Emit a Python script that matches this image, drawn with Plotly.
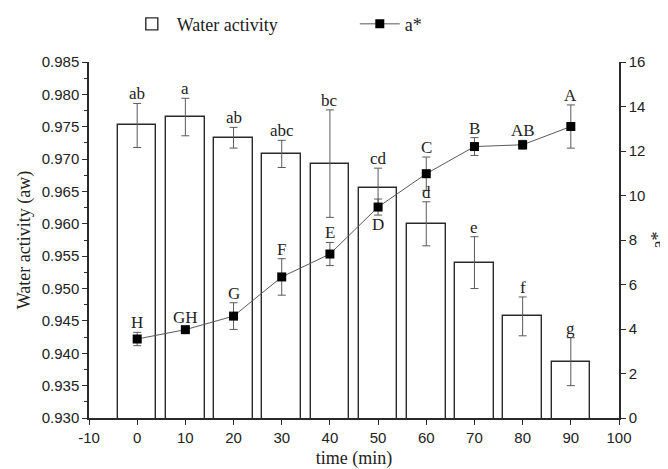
import plotly.graph_objects as go

time_min = [0, 10, 20, 30, 40, 50, 60, 70, 80, 90]
aw = [0.9752, 0.9765, 0.9733, 0.9708, 0.9693, 0.9656, 0.9600, 0.9540, 0.9457, 0.9387]
aw_err = [0.0034, 0.0029, 0.0016, 0.0021, 0.0083, 0.0030, 0.0034, 0.0040, 0.0030, 0.0037]
aw_letters = ["ab", "a", "ab", "abc", "bc", "cd", "d", "e", "f", "g"]
a_star = [3.55, 3.97, 4.58, 6.34, 7.37, 9.48, 10.98, 12.2, 12.28, 13.1]
a_star_err = [0.30, 0.10, 0.60, 0.82, 0.52, 0.36, 0.75, 0.40, 0.20, 0.97]
a_star_letters = ["H", "GH", "G", "F", "E", "D", "C", "B", "AB", "A"]
x_ticks = [-10, 0, 10, 20, 30, 40, 50, 60, 70, 80, 90, 100]
x_tick_labels = ["-10", "0", "10", "20", "30", "40", "50", "60", "70", "80", "90", "100"]

serif = "Liberation Serif, Times New Roman, serif"
sans = "Liberation Sans, Arial, sans-serif"
ink = "#2a2a2a"
grey = "#5a5a5a"
txt = "#222222"

fig = go.Figure()
fig.add_trace(go.Bar(
    x=time_min, y=aw, width=8, name="Water activity",
    marker=dict(color="white", line=dict(color=ink, width=1.4)),
    error_y=dict(type="data", array=aw_err, color=grey, thickness=1, width=4),
    yaxis="y",
))
fig.add_trace(go.Scatter(
    x=time_min, y=a_star, name="a*", mode="lines+markers",
    line=dict(color=grey, width=1),
    marker=dict(symbol="square", size=9, color="black"),
    error_y=dict(type="data", array=a_star_err, color=grey, thickness=1, width=4),
    yaxis="y2",
))

lab_font = dict(family=serif, size=17, color=txt)
annotations = []
for x, v, e, t in zip(time_min, aw, aw_err, aw_letters):
    annotations.append(dict(x=x, y=v + e, xref="x", yref="y", text=t, showarrow=False,
                            yanchor="bottom", yshift=-2, font=lab_font))
for x, v, e, t in zip(time_min, a_star, a_star_err, a_star_letters):
    if t == "D":
        annotations.append(dict(x=x, y=v - e, xref="x", yref="y2", text=t, showarrow=False,
                                yanchor="top", yshift=2, font=lab_font))
    else:
        annotations.append(dict(x=x, y=v + e, xref="x", yref="y2", text=t, showarrow=False,
                                yanchor="bottom", yshift=-2, font=lab_font))

title_font = dict(family=serif, size=18, color=txt)

fig.update_layout(
    width=660, height=461,
    margin=dict(l=81, r=49, t=54, b=51, autoexpand=False),
    paper_bgcolor="white", plot_bgcolor="white",
    showlegend=True,
    legend=dict(orientation="h", xref="container", yref="container",
                x=0.18, y=0.965, xanchor="left", yanchor="middle",
                font=dict(family=serif, size=18, color=txt),
                entrywidth=173, entrywidthmode="pixels", itemwidth=40,
                bgcolor="rgba(0,0,0,0)"),
    bargap=0,
    xaxis=dict(range=[-10, 100], tickvals=x_ticks, ticktext=x_tick_labels,
               ticks="outside", ticklen=5, automargin=False,
               showline=True, linecolor=ink, linewidth=1.5, tickcolor=ink, showgrid=False,
               zeroline=False, tickfont=dict(family=sans, size=15, color=txt),
               title=dict(text="time (min)", font=title_font, standoff=10)),
    yaxis=dict(range=[0.930, 0.985], dtick=0.005, tick0=0.930, tickformat=".3f",
               ticks="outside", ticklen=5, showline=True, linecolor=ink, linewidth=1.5,
               tickcolor=ink, showgrid=False, zeroline=False, automargin=False,
               minor=dict(ticks="outside", ticklen=3, dtick=0.0025, tickcolor=ink, showgrid=False),
               tickfont=dict(family=sans, size=15, color=txt),
               title=dict(text="Water activity (aw)", font=title_font, standoff=6)),
    yaxis2=dict(range=[0, 16], dtick=2, overlaying="y", side="right", anchor="x",
                ticks="outside", ticklen=5, showline=True, linecolor=ink, linewidth=1.5,
                tickcolor=ink, showgrid=False, zeroline=False, automargin=False,
                tickfont=dict(family=sans, size=15, color=txt),
                title=dict(text="a*", font=title_font, standoff=17)),
    annotations=annotations,
)

fig.write_html("out.html")
